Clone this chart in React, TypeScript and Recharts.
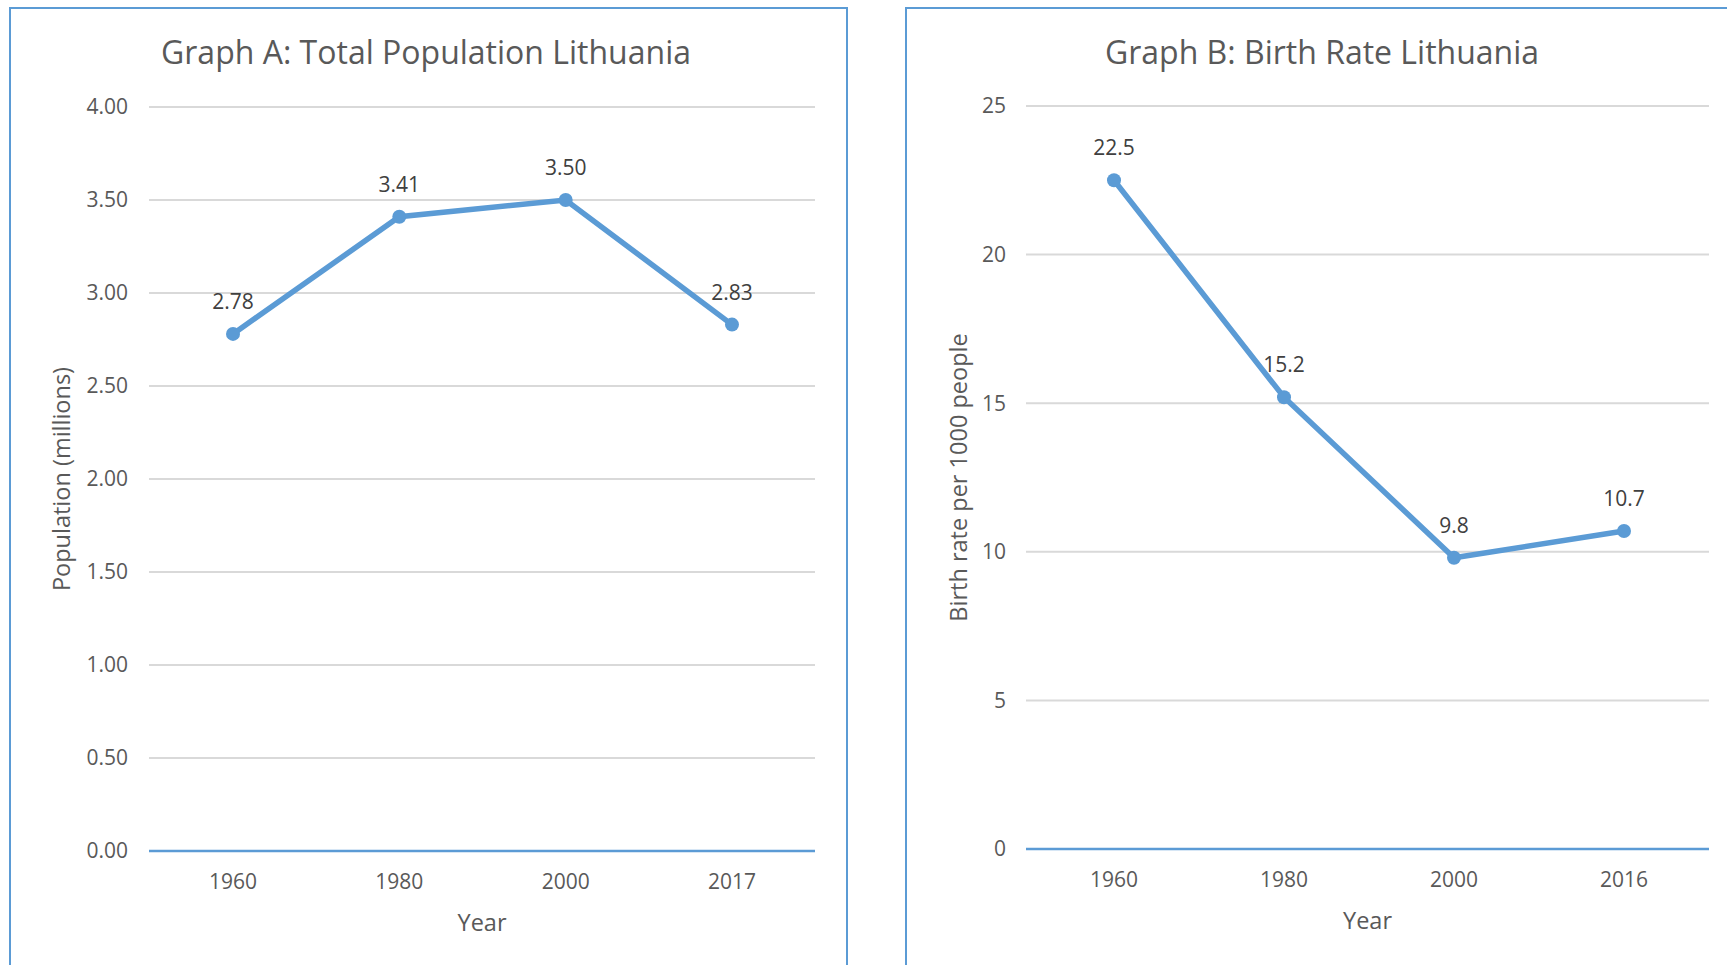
import { LineChart, Line, XAxis, YAxis, CartesianGrid, LabelList, Label } from 'recharts';

const yearsA = ['1960', '1980', '2000', '2017'];
const population = [2.78, 3.41, 3.5, 2.83];
const popTicks = [0, 0.5, 1, 1.5, 2, 2.5, 3, 3.5, 4];

const yearsB = ['1960', '1980', '2000', '2016'];
const birthRate = [22.5, 15.2, 9.8, 10.7];
const birthTicks = [0, 5, 10, 15, 20, 25];

const BLUE = '#5B9BD5';
const GREY = '#595959';
const FONT = '"Open Sans", sans-serif';

const dataA = yearsA.map((year, i) => ({ year, value: population[i] }));
const dataB = yearsB.map((year, i) => ({ year, value: birthRate[i] }));

const tickStyle = { fill: GREY, fontSize: 21, fontFamily: FONT };

const yTitle = (text: string, dx: number) => (props: any) => {
  const vb = props.viewBox;
  const cx = vb.x + dx;
  const cy = vb.y + vb.height / 2;
  return (
    <text
      x={cx}
      y={cy}
      textAnchor="middle"
      dominantBaseline="central"
      transform={`rotate(-90, ${cx}, ${cy})`}
      fill={GREY}
      fontSize={23.5}
      fontFamily={FONT}
    >
      {text}
    </text>
  );
};

const xTitle = (text: string) => (props: any) => {
  const vb = props.viewBox;
  return (
    <text
      x={vb.x + vb.width / 2}
      y={vb.y + 71}
      textAnchor="middle"
      dominantBaseline="central"
      fill={GREY}
      fontSize={23.5}
      fontFamily={FONT}
    >
      {text}
    </text>
  );
};

function Panel({ left, width }: { left: number; width: number }) {
  return (
    <div
      style={{
        position: 'absolute',
        left,
        top: 7,
        width,
        height: 1000,
        boxSizing: 'border-box',
        border: `2px solid ${BLUE}`,
      }}
    />
  );
}

function Title({ center, text }: { center: number; text: string }) {
  return (
    <div
      style={{
        position: 'absolute',
        left: center - 400,
        top: 32,
        width: 800,
        lineHeight: '40px',
        textAlign: 'center',
        fontFamily: FONT,
        fontSize: 32,
        color: GREY,
      }}
    >
      {text}
    </div>
  );
}

export default function App() {
  return (
    <div
      style={{
        position: 'absolute',
        left: 0,
        top: 0,
        width: 1727,
        height: 965,
        overflow: 'hidden',
        background: '#fff',
      }}
    >
      <Panel left={9} width={839} />
      <Panel left={905} width={835} />
      <Title center={426} text="Graph A: Total Population Lithuania" />
      <Title center={1322} text="Graph B: Birth Rate Lithuania" />

      <div style={{ position: 'absolute', left: 0, top: 0 }}>
        <LineChart width={846} height={965} data={dataA} margin={{ top: 107, right: 31, bottom: 34, left: 0 }}>
          <CartesianGrid vertical={false} stroke="#D9D9D9" strokeWidth={2} />
          <XAxis
            dataKey="year"
            interval={0}
            padding={{ left: 84, right: 83 }}
            height={80}
            axisLine={{ stroke: BLUE, strokeWidth: 2.5 }}
            tickLine={false}
            tickSize={0}
            tickMargin={23}
            tick={tickStyle}
          >
            <Label content={xTitle('Year')} />
          </XAxis>
          <YAxis
            width={149}
            domain={[0, 4]}
            ticks={popTicks}
            tickFormatter={(v: number) => v.toFixed(2)}
            axisLine={false}
            tickLine={false}
            tickSize={0}
            tickMargin={21}
            tick={tickStyle}
          >
            <Label content={yTitle('Population (millions)', 61)} />
          </YAxis>
          <Line
            dataKey="value"
            stroke={BLUE}
            strokeWidth={5.5}
            dot={{ r: 7, fill: BLUE, stroke: BLUE, strokeWidth: 0 }}
            activeDot={false}
            isAnimationActive={false}
          >
            <LabelList
              dataKey="value"
              position="top"
              offset={25}
              formatter={(v: any) => Number(v).toFixed(2)}
              style={{ fill: '#404040', fontSize: 21, fontFamily: FONT }}
            />
          </Line>
        </LineChart>
      </div>

      <div style={{ position: 'absolute', left: 880, top: 0 }}>
        <LineChart width={847} height={965} data={dataB} margin={{ top: 106, right: 18, bottom: 36, left: 0 }}>
          <CartesianGrid vertical={false} stroke="#D9D9D9" strokeWidth={2} />
          <XAxis
            dataKey="year"
            interval={0}
            padding={{ left: 88, right: 85 }}
            height={80}
            axisLine={{ stroke: BLUE, strokeWidth: 2.5 }}
            tickLine={false}
            tickSize={0}
            tickMargin={23}
            tick={tickStyle}
          >
            <Label content={xTitle('Year')} />
          </XAxis>
          <YAxis
            width={146}
            domain={[0, 25]}
            ticks={birthTicks}
            axisLine={false}
            tickLine={false}
            tickSize={0}
            tickMargin={20}
            tick={tickStyle}
          >
            <Label content={yTitle('Birth rate per 1000 people', 78)} />
          </YAxis>
          <Line
            dataKey="value"
            stroke={BLUE}
            strokeWidth={5.5}
            dot={{ r: 7, fill: BLUE, stroke: BLUE, strokeWidth: 0 }}
            activeDot={false}
            isAnimationActive={false}
          >
            <LabelList
              dataKey="value"
              position="top"
              offset={25}
              formatter={(v: any) => Number(v).toFixed(1)}
              style={{ fill: '#404040', fontSize: 21, fontFamily: FONT }}
            />
          </Line>
        </LineChart>
      </div>
    </div>
  );
}
